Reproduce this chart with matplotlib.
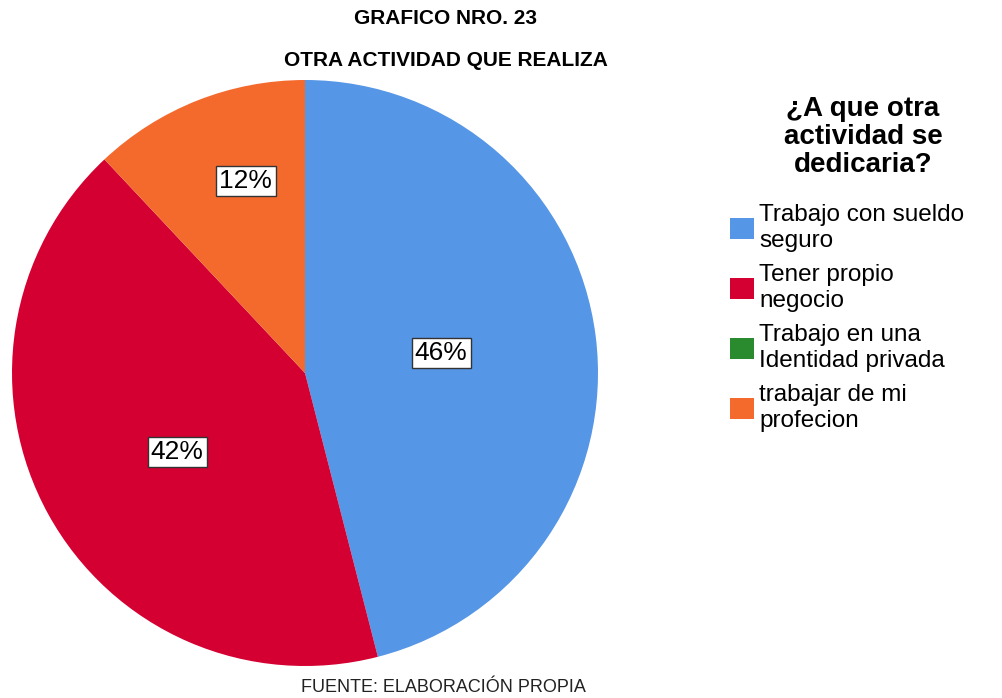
import matplotlib.pyplot as plt
from matplotlib.patches import Patch
import numpy as np

plt.rcParams['font.family'] = ['Liberation Sans', 'DejaVu Sans']

# datos del grafico
categorias = ['Trabajo con sueldo\nseguro', 'Tener propio\nnegocio',
              'Trabajo en una\nIdentidad privada', 'trabajar de mi\nprofecion']
porcentajes = [46, 42, 0, 12]
colores = ['#5596E6', '#D50032', '#2A8A2E', '#F46A2D']
# posicion de cada etiqueta: fraccion del radio y desvio del angulo medio (grados)
dist_etiqueta = [0.47, 0.513, 0.5, 0.686]
desvio_ang = [1.2, 2.9, 0, -4.5]

fig = plt.figure(figsize=(10.02, 6.98), dpi=100)
ax = fig.add_axes([12/1002, 32/698, 586/1002, 586/698])
wedges, _ = ax.pie(porcentajes, colors=colores, startangle=90, counterclock=False,
                   radius=1, wedgeprops={'linewidth': 0})
ax.set_xlim(-1, 1)
ax.set_ylim(-1, 1)
ax.set_aspect('equal')
ax.axis('off')

# etiquetas de porcentaje con caja blanca
for w, p, d, da in zip(wedges, porcentajes, dist_etiqueta, desvio_ang):
    if p == 0:
        continue
    ang = np.deg2rad((w.theta1 + w.theta2) / 2 + da)
    ax.text(d*np.cos(ang), d*np.sin(ang), f'{p}%', ha='center', va='center',
            fontsize=19,
            bbox=dict(boxstyle='square,pad=0.12', facecolor='white',
                      edgecolor='#333333', linewidth=1))

fig.text(0.445, 1 - 18/698, 'GRAFICO NRO. 23', ha='center', va='center',
         fontsize=15, fontweight='bold')
fig.text(0.445, 1 - 61/698, 'OTRA ACTIVIDAD QUE REALIZA', ha='center', va='center',
         fontsize=15, fontweight='bold')
fig.text(0.443, 1 - 688/698, 'FUENTE: ELABORACIÓN PROPIA', ha='center', va='center',
         fontsize=13, color='#222222')

# titulo de la leyenda
fig.text(863/1002, 1 - 96/698, '¿A que otra\nactividad se\ndedicaria?', ha='center',
         va='top', fontsize=20, fontweight='bold', linespacing=1.1)

hands = [Patch(facecolor=c, edgecolor='none') for c in colores]
lgd = fig.legend(hands, categorias, loc='upper left', bbox_to_anchor=(730/1002, 1 - 204/698),
                 frameon=False, fontsize=17.5, handlelength=1.0, handleheight=0.95,
                 handletextpad=0.2, labelspacing=0.48, borderpad=0, borderaxespad=0)
for t in lgd.get_texts():
    t.set_linespacing(1.25)

fig.savefig('out.png', dpi=100)
